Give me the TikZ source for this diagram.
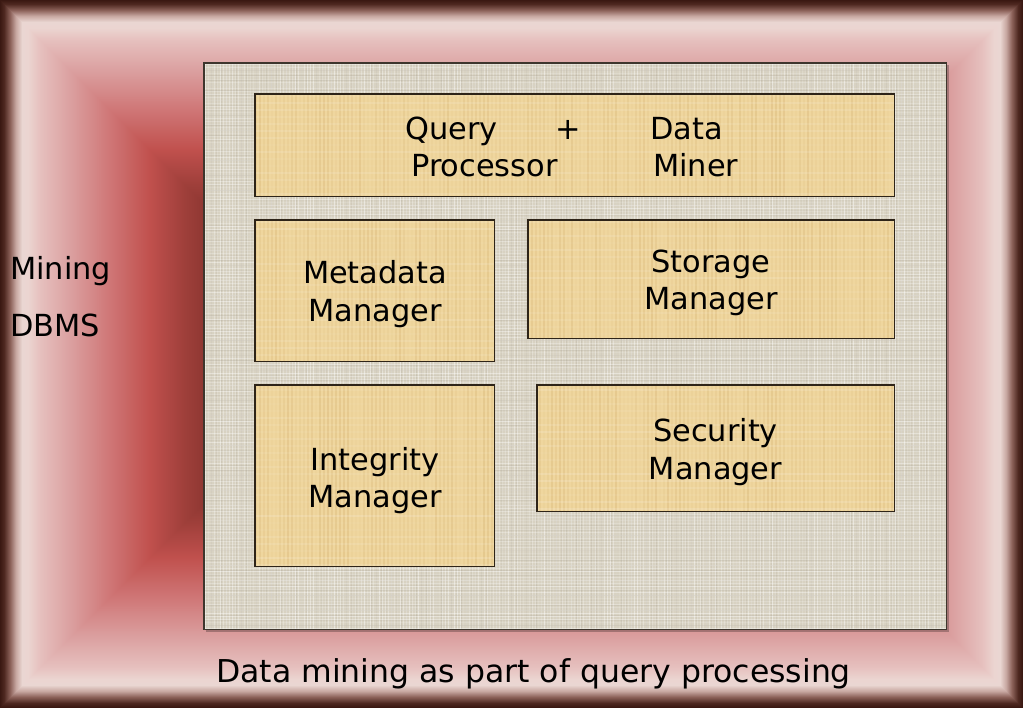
\documentclass[tikz,border=0pt]{standalone}
\usepackage{fontspec}
\setmainfont{DejaVu Sans}
\definecolor{fa}{HTML}{3A1812}
\definecolor{fb}{HTML}{4E2820}
\definecolor{fc}{HTML}{8A6058}
\definecolor{fd}{HTML}{C8A8A2}
\definecolor{fe}{HTML}{EAD6D2}
\definecolor{ff}{HTML}{EBD5D1}
\definecolor{fg}{HTML}{E6C0BE}
\definecolor{fh}{HTML}{DBA0A0}
\definecolor{fi}{HTML}{CF7676}
\definecolor{fj}{HTML}{C0504D}
\definecolor{fk}{HTML}{9E3F3A}
\definecolor{fl}{HTML}{8A3530}
\definecolor{parch}{HTML}{EFD69E}
\definecolor{parchdark}{HTML}{D4B070}
\definecolor{linen}{HTML}{D8D2C2}
\definecolor{linendark}{HTML}{A8A090}
\definecolor{edge}{HTML}{2E2418}
\begin{document}
\begin{tikzpicture}[x=1pt,y=-1pt,
  panelbox/.style={rectangle, inner sep=0pt, fill=linen, draw=none, anchor=north west},
  mgrbox/.style={rectangle, inner sep=0pt, fill=parch, draw=none, anchor=north west},
  edgeline/.style={draw=edge, line width=1.1pt},
  txt/.style={font=\fontsize{30.4}{38}\selectfont, text=black, inner sep=0pt, anchor=base},
  captxt/.style={font=\fontsize{31.5}{38}\selectfont, text=black, inner sep=0pt, anchor=base}]
\useasboundingbox (0,0) rectangle (1023,708);
% bevelled frame
\foreach \a/\b/\ca/\cb in {0/4/fa/fb, 4/10/fb/fc, 10/16/fc/fd, 16/22/fd/fe, 22/28/fe/ff, 28/40/ff/fg, 40/70/fg/fh, 70/110/fh/fi, 110/150/fi/fj, 150/185/fj/fk, 185/210/fk/fl}{
  \foreach \d in {\a,...,\b}{
    \pgfmathtruncatemacro\p{100*(\b-\d)/(\b-\a)}
    \fill[\ca!\p!\cb] (\d,\d) rectangle ({1023-\d},{708-\d});
  }
}
% panel
\fill[black, opacity=0.25] (206,65) rectangle (949,632);
\node[panelbox, minimum width=742pt, minimum height=566pt] (panel) at (204,63) {};
\begin{scope}
  \clip (panel.north west) rectangle (panel.south east);
  \pgfmathsetseed{7}
  \foreach \x in {205,208,...,945}{
    \pgfmathsetmacro\o{0.1+0.35*rnd}
    \draw[white, opacity=\o, line width=0.9pt] (\x,63) -- (\x,629);
  }
  \foreach \x in {206,211,...,945}{
    \pgfmathsetmacro\o{0.05+0.2*rnd}
    \draw[linendark, opacity=\o, line width=0.8pt] (\x,63) -- (\x,629);
  }
  \foreach \y in {64,67,...,628}{
    \pgfmathsetmacro\o{0.1+0.3*rnd}
    \draw[white, opacity=\o, line width=0.9pt] (204,\y) -- (946,\y);
  }
  \foreach \y in {65,70,...,628}{
    \pgfmathsetmacro\o{0.05+0.2*rnd}
    \draw[linendark, opacity=\o, line width=0.8pt] (204,\y) -- (946,\y);
  }
\end{scope}
\draw[draw=edge!80!gray, line width=1.4pt] (panel.north west) rectangle (panel.south east);
% manager boxes
\node[mgrbox, minimum width=639pt, minimum height=102pt] (qp) at (255,94) {};
\node[mgrbox, minimum width=239pt, minimum height=141pt] (meta) at (255,220) {};
\node[mgrbox, minimum width=366pt, minimum height=118pt] (stor) at (528,220) {};
\node[mgrbox, minimum width=239pt, minimum height=181pt] (integ) at (255,385) {};
\node[mgrbox, minimum width=357pt, minimum height=126pt] (secu) at (537,385) {};
\pgfmathsetseed{11}
\foreach \n in {qp,meta,stor,integ,secu}{
  \begin{scope}
    \clip (\n.north west) rectangle (\n.south east);
    \foreach \x in {256,260,...,893}{
      \pgfmathsetmacro\o{0.05+0.3*rnd}
      \draw[parchdark, opacity=\o, line width=1.6pt] (\x,90) -- (\x,570);
    }
    \foreach \y in {96,103,...,566}{
      \pgfmathsetmacro\o{0.03+0.12*rnd}
      \draw[white, opacity=\o, line width=1.2pt] (250,\y) -- (900,\y);
    }
  \end{scope}
  \draw[edgeline] (\n.north west) rectangle (\n.south east);
}
% texts
\node[txt, anchor=base west] (q1) at (405,140) {Query};
\node[txt] (plus) at (568,140) {+};
\node[txt, anchor=base west] (d1) at (650,140) {Data};
\node[txt, anchor=base west] (p1) at (411,177) {Processor};
\node[txt, anchor=base west] (m1) at (653,177) {Miner};
\node[txt] (meta1) at (375,284) {Metadata};
\node[txt] (meta2) at (375,322) {Manager};
\node[txt] (stor1) at (711,273) {Storage};
\node[txt] (stor2) at (711,310) {Manager};
\node[txt] (integ1) at (375,470) {Integrity};
\node[txt] (integ2) at (375,507) {Manager};
\node[txt] (secu1) at (715.5,442) {Security};
\node[txt] (secu2) at (715.5,479) {Manager};
\node[txt, anchor=base west] (mining) at (10,280) {Mining};
\node[txt, anchor=base west] (dbms) at (10,337) {DBMS};
\node[captxt] (caption) at (533.5,682) {Data mining as part of query processing};
\end{tikzpicture}
\end{document}
